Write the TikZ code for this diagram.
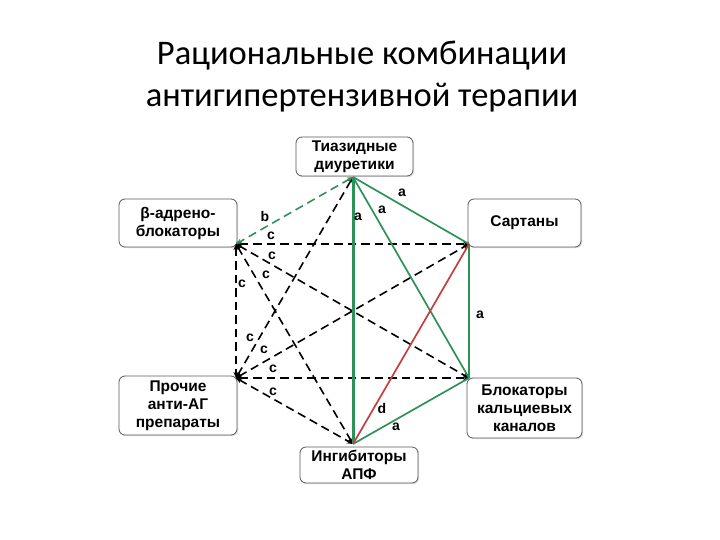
\documentclass[tikz,border=0pt]{standalone}
\usepackage{fontspec}
\setmainfont{Carlito}
\newfontfamily\boxfont{Liberation Sans}
\usetikzlibrary{arrows.meta,shadows}

\definecolor{combogreen}{RGB}{46,145,90}
\definecolor{combored}{RGB}{196,64,64}

\tikzset{
  drugbox/.style={draw=gray!70!black, line width=0.8pt, fill=white,
    rounded corners=6pt, align=center, inner sep=2pt,
    font=\boxfont\bfseries\fontsize{15.5}{18}\selectfont,
    drop shadow={shadow xshift=1.2pt, shadow yshift=-1.2pt, opacity=0.25}},
  combolbl/.style={font=\boxfont\bfseries\fontsize{14}{15}\selectfont, inner sep=0pt},
  weakpair/.style={line width=1.6pt, dash pattern=on 8.5pt off 5pt,
    {Stealth[length=6pt,width=5pt]}-{Stealth[length=6pt,width=5pt]}},
  goodpair/.style={line width=1.7pt, combogreen}
}

\begin{document}
\begin{tikzpicture}[x=1pt,y=-1pt]
  \useasboundingbox (0,0) rectangle (720,540);

  % --- title ---
  \node[align=center, font=\fontsize{34.5}{42}\selectfont] (title) at (362,77)
    {Рациональные комбинации\\антигипертензивной терапии};

  % --- drug groups (boxes) ---
  \node[drugbox, minimum width=117pt, minimum height=39pt] (T) at (354.5,156.5) {Тиазидные\\диуретики};
  \node[drugbox, minimum width=118pt, minimum height=48pt] (B) at (178,223) {β-адрено-\\блокаторы};
  \node[drugbox, minimum width=113pt, minimum height=48pt] (S) at (524.5,223) {Сартаны};
  \node[drugbox, minimum width=115pt, minimum height=60pt] (C) at (524.5,408) {Блокаторы\\кальциевых\\каналов};
  \node[drugbox, minimum width=118pt, minimum height=59pt] (P) at (178,405.5) {Прочие\\анти-АГ\\препараты};
  \node[drugbox, minimum width=118pt, minimum height=36pt] (A) at (359,465) {Ингибиторы\\АПФ};

  % corners of the hexagon (where the lines meet)
  \coordinate (vT) at (353,177);
  \coordinate (vB) at (236,244);
  \coordinate (vS) at (469,244);
  \coordinate (vC) at (469,378);
  \coordinate (vP) at (236,378);
  \coordinate (vA) at (353,444);

  % --- c: possible combinations (dashed) ---
  \draw[weakpair] (vB) -- (vS);
  \draw[weakpair] (vB) -- (vC);
  \draw[weakpair] (vB) -- (vA);
  \draw[weakpair] (vB) -- (vP);
  \draw[weakpair] (vP) -- (vT);
  \draw[weakpair] (vP) -- (vS);
  \draw[weakpair] (vP) -- (vC);
  \draw[weakpair] (vP) -- (vA);

  % --- b: green dashed ---
  \draw[weakpair, combogreen] (vT) -- (vB);

  % --- a: rational combinations (green) ---
  \draw[goodpair, line width=3pt] (vT) -- (vA);
  \draw[goodpair] (vT) -- (vC);
  \draw[goodpair] (vT) -- (vS);
  \draw[goodpair] (vS) -- (vC);
  \draw[goodpair] (vC) -- (vA);

  % --- d: red ---
  \draw[line width=1.7pt, combored] (vS) -- (vA);

  % --- labels ---
  \node[combolbl] (lTS) at (402,193) {a};
  \node[combolbl] (lTC) at (382,210) {a};
  \node[combolbl] (lTA) at (358,217) {a};
  \node[combolbl] (lSC) at (480,315) {a};
  \node[combolbl] (lCA) at (396,427) {a};
  \node[combolbl] (lTB) at (265,216) {b};
  \node[combolbl] (lSA) at (382,408) {d};
  \node[combolbl] (lBS) at (271,236) {c};
  \node[combolbl] (lBC) at (272,256) {c};
  \node[combolbl] (lBA) at (266,275) {c};
  \node[combolbl] (lBP) at (242,284) {c};
  \node[combolbl] (lPT) at (250,338) {c};
  \node[combolbl] (lPS) at (264,350) {c};
  \node[combolbl] (lPC) at (273,369) {c};
  \node[combolbl] (lPA) at (273,392) {c};
\end{tikzpicture}
\end{document}
